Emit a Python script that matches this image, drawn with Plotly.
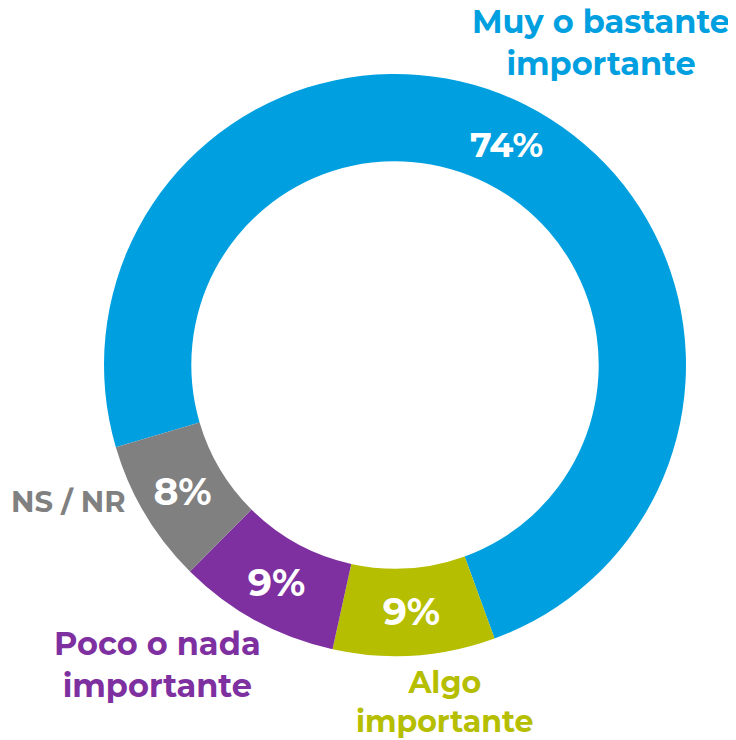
import plotly.graph_objects as go

categories = ["Muy o bastante importante", "Algo importante", "Poco o nada importante", "NS / NR"]
shares = [74, 9, 9, 8]
slice_colors = ["#00A0E0", "#B5BE00", "#7F30A0", "#808080"]
# the big slice's label has to fit the ring at its mid angle, otherwise plotly moves it
percent_sizes = [35, 38, 38, 38]

label_font = "Montserrat, 'Open Sans', sans-serif"
W, H = 736, 740
# the page body adds an 8px margin, so everything is laid out 8px up and left
OFF = 8

figure = go.Figure(
    go.Pie(
        labels=categories,
        values=shares,
        sort=False,
        direction="clockwise",
        rotation=253.6,
        hole=0.70,
        marker=dict(colors=slice_colors, line=dict(width=0)),
        textinfo="percent",
        texttemplate="%{percent:.0%}",
        textposition="inside",
        insidetextorientation="horizontal",
        insidetextfont=dict(family=label_font, size=percent_sizes, color="white", weight=700),
        showlegend=False,
    )
)

outer_labels = [
    (601, 43, "Muy o bastante<br>importante", slice_colors[0], 32),
    (444, 702, "Algo<br>importante", slice_colors[1], 30),
    (157, 664, "Poco o nada<br>importante", slice_colors[2], 32),
    (68, 502, "NS / NR", slice_colors[3], 29),
]
for x_px, y_px, text, color, size in outer_labels:
    figure.add_annotation(
        x=(x_px - OFF) / W,
        y=1 - (y_px - OFF) / H,
        xref="paper",
        yref="paper",
        text=text,
        showarrow=False,
        xanchor="center",
        yanchor="middle",
        font=dict(family=label_font, size=size, color=color, weight=700),
        align="center",
    )

figure.update_layout(
    width=W,
    height=H,
    margin=dict(l=0, r=0, t=0, b=0),
    paper_bgcolor="white",
    plot_bgcolor="white",
)
figure.update_traces(
    domain=dict(
        x=[(104 - OFF) / W, (686 - OFF) / W],
        y=[1 - (656 - OFF) / H, 1 - (74 - OFF) / H],
    )
)
figure.write_html("out.html")
